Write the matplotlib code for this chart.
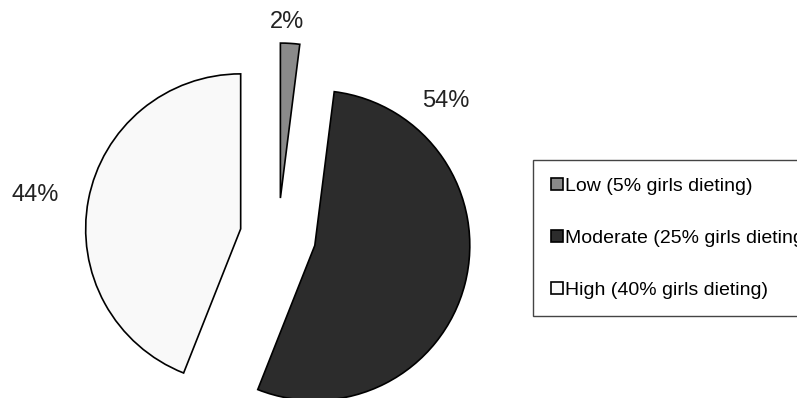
import matplotlib.pyplot as plt

plt.rcParams["font.family"] = ["Liberation Sans", "DejaVu Sans"]

# share of schools by dieting level
categorias = ["Low (5% girls dieting)", "Moderate (25% girls dieting)", "High (40% girls dieting)"]
porcentajes = [2, 54, 44]
colores = ["#8a8a8a", "#2c2c2c", "#f9f9f9"]

W, H = 797, 398
fig = plt.figure(figsize=(W / 100, H / 100), dpi=100)
ax = fig.add_axes([0, 0, 1, 1])

# radius and explode are in data units (pixels here)
wedges, _ = ax.pie(
    porcentajes,
    explode=[38] * 3,
    colors=colores,
    startangle=90,
    counterclock=False,
    center=(278, H - 236),
    radius=155,
    wedgeprops=dict(edgecolor="black", linewidth=1.2),
    frame=True,
)

ax.set_xlim(0, W)
ax.set_ylim(0, H)
ax.set_aspect("equal")
ax.axis("off")

# percentage labels
posiciones = [(287, H - 22), (446, H - 101), (35, H - 195)]
for valor, (x, y) in zip(porcentajes, posiciones):
    ax.text(x, y, f"{valor}%", ha="center", va="center", fontsize=17, color="#222222")

leg = fig.legend(
    wedges,
    categorias,
    loc="upper left",
    bbox_to_anchor=(533 / W, 1 - 160 / H),
    borderaxespad=0,
    fontsize=14,
    frameon=True,
    fancybox=False,
    shadow=False,
    handlelength=0.62,
    handleheight=0.62,
    handletextpad=0.12,
    labelspacing=1.8,
    borderpad=0.9,
)
leg.get_frame().set_edgecolor("#444444")
leg.get_frame().set_linewidth(1.0)
leg.get_frame().set_alpha(1)

fig.savefig("out.png", dpi=100)
